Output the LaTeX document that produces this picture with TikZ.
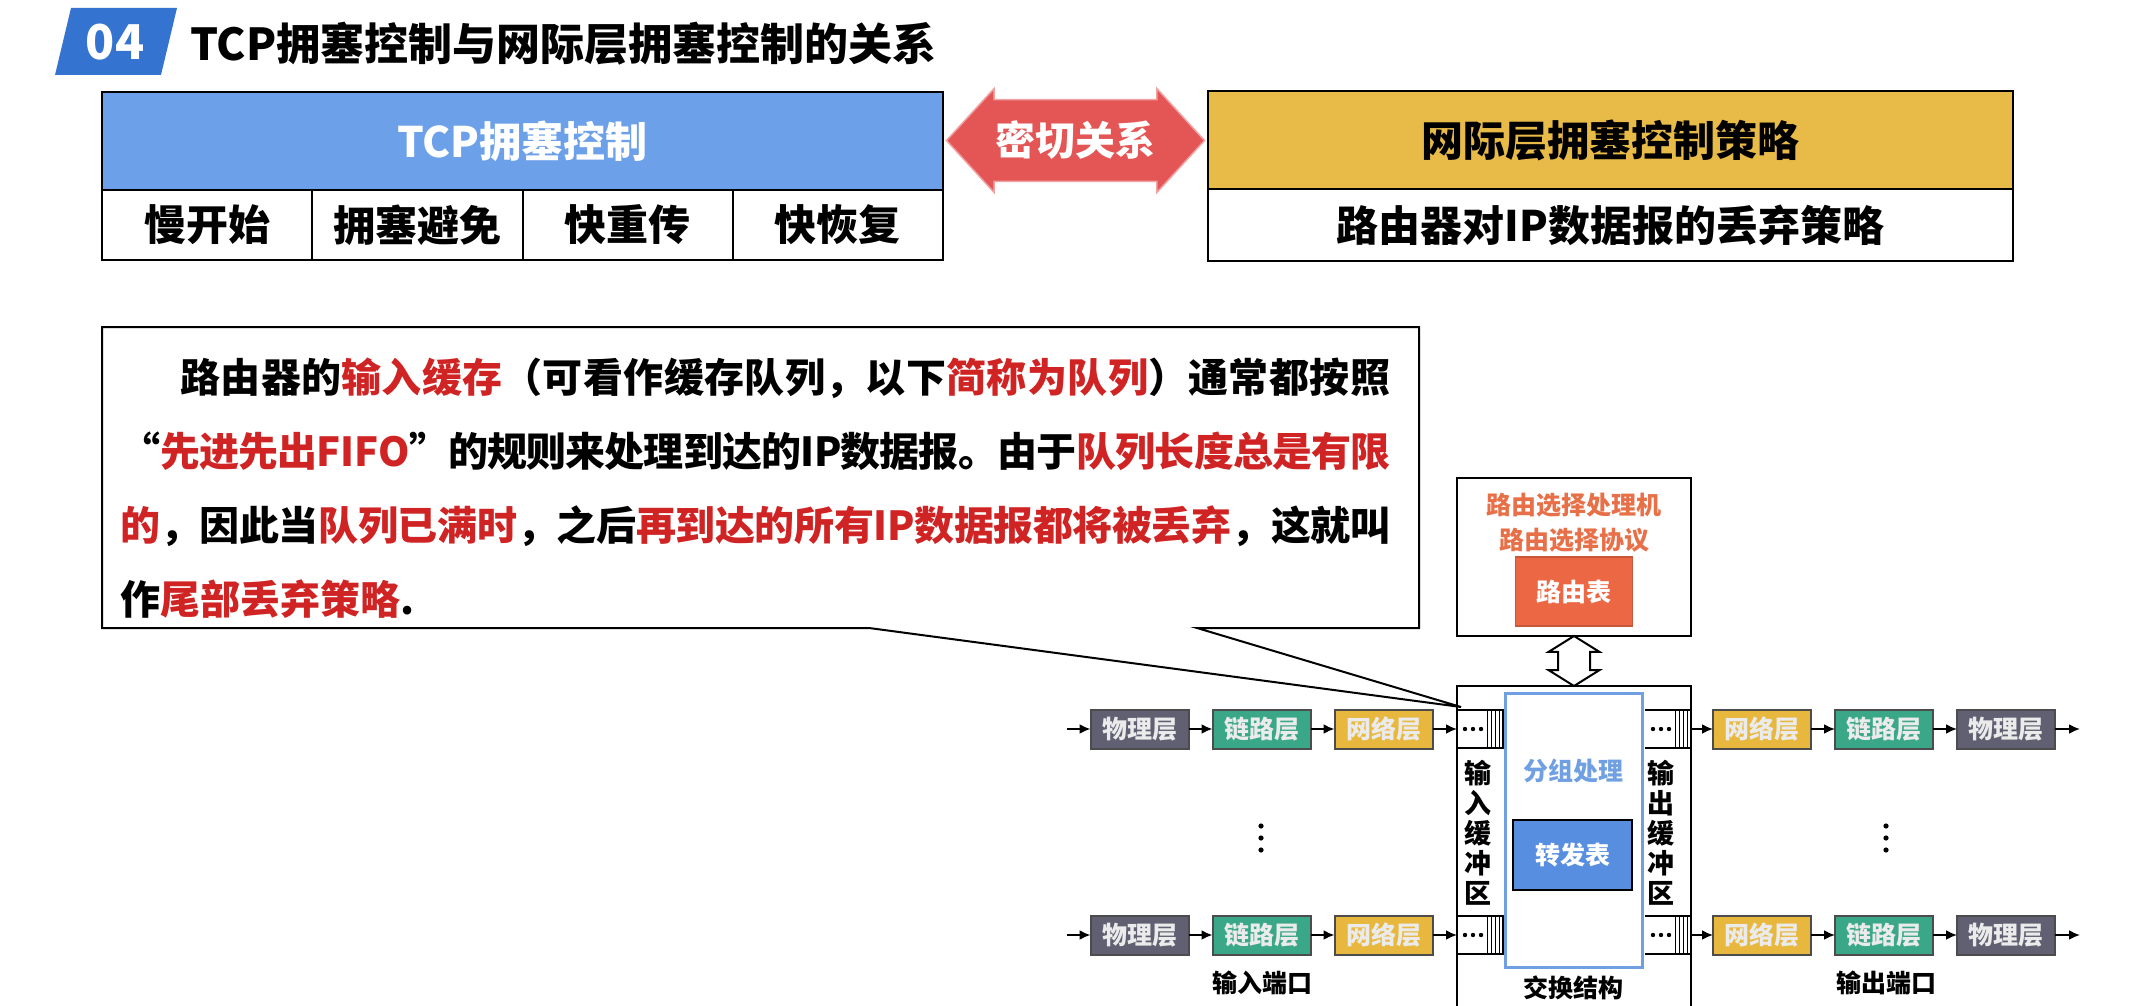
\documentclass[tikz,border=0pt]{standalone}
\usepackage{fontspec}
\setmainfont{Noto Sans CJK SC}
\usepackage{tikz}
\usetikzlibrary{arrows.meta,positioning,calc,shapes.arrows}
\XeTeXlinebreaklocale "zh"
\XeTeXlinebreakskip=0pt plus 2pt minus 1pt
\definecolor{badgeblue}{RGB}{52,116,208}
\definecolor{tcpblue}{RGB}{108,160,232}
\definecolor{ipyellow}{RGB}{232,186,72}
\definecolor{relred}{RGB}{228,86,86}
\definecolor{keyred}{RGB}{208,36,36}
\definecolor{phygray}{RGB}{96,96,114}
\definecolor{linkgreen}{RGB}{58,168,136}
\definecolor{netgold}{RGB}{232,184,62}
\definecolor{rtorange}{RGB}{236,104,68}
\definecolor{proctext}{RGB}{232,112,72}
\definecolor{fwdblue}{RGB}{88,142,224}
\definecolor{pktblue}{RGB}{112,160,226}
\tikzset{
	cell/.style={draw,line width=2pt,inner sep=0pt,outer sep=0pt,font=\bfseries\fontsize{42}{42}\selectfont},
	layerbox/.style={draw=black!70,line width=2pt,minimum width=98pt,minimum height=39pt,inner sep=0pt,outer sep=0pt,text=white!92!black,font=\bfseries\fontsize{25}{25}\selectfont},
	smalltxt/.style={inner sep=0pt,font=\bfseries\fontsize{25}{25}\selectfont},
	flowarr/.style={line width=2pt,-{Latex[length=11pt,width=10pt]}},
}
\begin{document}
\begin{tikzpicture}[x=1pt,y=-1pt]
\useasboundingbox[fill=white] (0,0) rectangle (2133,1006);
\fill[badgeblue] (71,8) -- (177,8) -- (161,75) -- (55,75) -- cycle;
\node[inner sep=0pt,text=white,font=\bfseries\fontsize{48}{48}\selectfont] (num) at (115,42) {04};
\node[inner sep=0pt,anchor=west,font=\bfseries\fontsize{44}{44}\selectfont] (title) at (190,44) {TCP拥塞控制与网际层拥塞控制的关系};
\node[cell,fill=tcpblue,text=white,minimum width=841pt,minimum height=98pt] (tcp) at (522.5,141) {TCP拥塞控制};
\node[cell,minimum width=210.25pt,minimum height=70pt,anchor=north west] (slow) at (tcp.south west) {慢开始};
\node[cell,minimum width=210.25pt,minimum height=70pt,right=0pt of slow] (avoid) {拥塞避免};
\node[cell,minimum width=210.25pt,minimum height=70pt,right=0pt of avoid] (fastre) {快重传};
\node[cell,minimum width=210.25pt,minimum height=70pt,right=0pt of fastre] (fastrec) {快恢复};
\node[cell,fill=ipyellow,minimum width=805pt,minimum height=98pt] (ipcc) at (1610.5,140) {网际层拥塞控制策略};
\node[cell,minimum width=805pt,minimum height=72pt,anchor=north] (drop) at (ipcc.south) {路由器对IP数据报的丢弃策略};
\node[double arrow,fill=relred,draw=relred!55!white,line width=1.5pt,minimum height=258pt,minimum width=104pt,inner xsep=0pt,inner ysep=6pt,double arrow tip angle=95,text=white,font=\bfseries\fontsize{40}{40}\selectfont] (rel) at ($(tcp.east)!0.5!(ipcc.west)$) {密切关系};
\draw[fill=white,line width=2pt] (869,628) -- (102,628) -- (102,327) -- (1419,327) -- (1419,628) -- (1197,628) -- (1461,707) -- cycle;
\node[anchor=north west,inner sep=0pt,text width=1270pt,align=justify,font=\bfseries\fontsize{40}{74}\selectfont] (note) at (120,358) {\hspace*{1.5em}路由器的\textcolor{keyred}{输入缓存}（可看作缓存队列，以下\textcolor{keyred}{简称为队列}）通常都按照\linebreak “\textcolor{keyred}{先进先出FIFO}”的规则来处理到达的IP数据报。由于\textcolor{keyred}{队列长度总是有限\linebreak 的}，因此当\textcolor{keyred}{队列已满时}，之后\textcolor{keyred}{再到达的所有IP数据报都将被丢弃}，这就叫\linebreak 作\textcolor{keyred}{尾部丢弃策略}.};
\node[draw,line width=2pt,minimum width=234pt,minimum height=158pt,inner sep=0pt] (proc) at (1574,557) {};
\node[smalltxt,text=proctext] (procname) at (1574,505) {路由选择处理机};
\node[smalltxt,text=proctext] (proto) at (1574,540) {路由选择协议};
\node[smalltxt,draw=rtorange!85!black,fill=rtorange,line width=1.5pt,minimum width=117pt,minimum height=69pt,text=white] (rtable) at (1574,591.5) {路由表};
\node[double arrow,draw,line width=2pt,fill=white,rotate=90,minimum height=50pt,minimum width=51pt,inner xsep=0pt,inner ysep=11pt,double arrow tip angle=116] (link) at (1574,661) {};
\draw[line width=2pt] (1457,1012) -- (1457,686) -- (1691,686) -- (1691,1012);
\node[draw=pktblue,line width=3pt,minimum width=137pt,minimum height=274pt,inner sep=0pt] (pkt) at (1573.5,830) {};
\node[smalltxt,text=pktblue] (pktname) at (1573.5,771) {分组处理};
\node[smalltxt,draw,line width=2pt,fill=fwdblue,minimum width=119pt,minimum height=70pt,text=white] (fwd) at (1572.5,855) {转发表};
\node[smalltxt] (swfab) at (1573.5,988) {交换结构};
\node[smalltxt,align=center,font=\bfseries\fontsize{27}{30}\selectfont] (inbuf) at (1478,833) {输\\入\\缓\\冲\\区};
\node[smalltxt,align=center,font=\bfseries\fontsize{27}{30}\selectfont] (outbuf) at (1661,833) {输\\出\\缓\\冲\\区};
\foreach \y/\n in {729/1,935/2} {
	\node[layerbox,fill=phygray] (phyIn\n) at (1139.5,\y) {物理层};
	\node[layerbox,fill=linkgreen,right=24pt of phyIn\n] (linkIn\n) {链路层};
	\node[layerbox,fill=netgold,right=24pt of linkIn\n] (netIn\n) {网络层};
	\node[layerbox,fill=netgold] (netOut\n) at (1762,\y) {网络层};
	\node[layerbox,fill=linkgreen,right=24pt of netOut\n] (linkOut\n) {链路层};
	\node[layerbox,fill=phygray,right=24pt of linkOut\n] (phyOut\n) {物理层};
	\coordinate (src\n) at (1067,\y);
	\coordinate (qIn\n) at (1457,\y);
	\coordinate (qOut\n) at (1691,\y);
	\coordinate (dst\n) at (2080,\y);
	\draw[flowarr] (src\n) -- (phyIn\n);
	\draw[flowarr] (phyIn\n) -- (linkIn\n);
	\draw[flowarr] (linkIn\n) -- (netIn\n);
	\draw[flowarr] (netIn\n) -- (qIn\n);
	\draw[flowarr] (qOut\n) -- (netOut\n);
	\draw[flowarr] (netOut\n) -- (linkOut\n);
	\draw[flowarr] (linkOut\n) -- (phyOut\n);
	\draw[flowarr] (phyOut\n) -- (dst\n);
	\draw[line width=1.5pt] (1457,\y-19) -- (1503,\y-19) -- (1503,\y+19) -- (1457,\y+19);
	\foreach \i in {0,...,3} {\draw[line width=1pt] (1487+\i*4,\y-19) -- (1487+\i*4,\y+19);}
	\foreach \i in {0,...,2} {\fill (1465+\i*8,\y) circle (2.2);}
	\draw[line width=1.5pt] (1691,\y-19) -- (1645,\y-19) (1645,\y+19) -- (1691,\y+19);
	\foreach \i in {0,...,3} {\draw[line width=1pt] (1675+\i*4,\y-19) -- (1675+\i*4,\y+19);}
	\foreach \i in {0,...,2} {\fill (1653+\i*8,\y) circle (2.2);}
}
\foreach \x in {1261,1886} {\foreach \k in {0,1,2} {\fill (\x,826+\k*12) circle (2.6);}}
\node[smalltxt] (inport) at (1262,983) {输入端口};
\node[smalltxt] (outport) at (1886,983) {输出端口};
\end{tikzpicture}
\end{document}
